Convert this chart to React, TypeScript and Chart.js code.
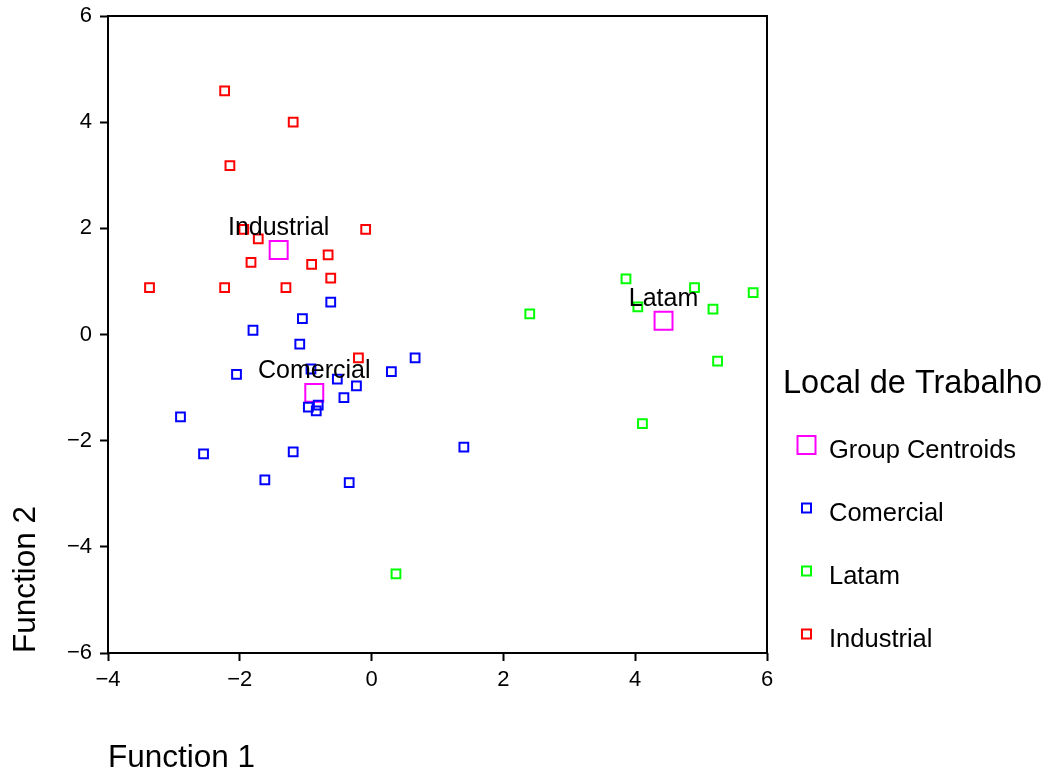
import React, { useEffect, useRef } from 'react';
import { Chart, registerables } from 'chart.js';

Chart.register(...registerables);

const FONT = '"Liberation Sans", Arial, Helvetica, sans-serif';

// Data
const comercialX = [-0.62, -1.05, -1.80, -1.09, 0.66, -2.05, -0.92, -0.52, -0.23, 0.30, -0.42, -0.96, -0.81, -0.84, -2.90, 1.40, -2.55, -1.19, -1.62, -0.34];
const comercialY = [0.61, 0.30, 0.08, -0.18, -0.44, -0.75, -0.65, -0.84, -0.97, -0.70, -1.19, -1.37, -1.33, -1.44, -1.55, -2.12, -2.25, -2.21, -2.74, -2.79];

const latamX = [3.86, 4.90, 5.79, 4.04, 5.18, 2.40, 5.25, 4.11, 0.37];
const latamY = [1.05, 0.885, 0.79, 0.52, 0.48, 0.39, -0.50, -1.68, -4.51];

const industrialX = [-2.23, -1.19, -2.15, -1.94, -1.72, -1.83, -0.91, -0.66, -0.62, -0.09, -3.37, -2.23, -1.30, -0.20];
const industrialY = [4.59, 4.00, 3.18, 1.98, 1.80, 1.36, 1.32, 1.50, 1.06, 1.98, 0.885, 0.885, 0.885, -0.44];

const centroidLabels = ['Industrial', 'Comercial', 'Latam'];
const centroidX = [-1.41, -0.87, 4.43];
const centroidY = [1.59, -1.10, 0.26];

const xTicks = [-4, -2, 0, 2, 4, 6];
const yTicks = [-6, -4, -2, 0, 2, 4, 6];

const legendTitle = 'Local de Trabalho';
const legendItems = ['Group Centroids', 'Comercial', 'Latam', 'Industrial'];

const toPoints = (xs: number[], ys: number[]) => xs.map((x, i) => ({ x, y: ys[i] }));
const fmtTick = (v: number | string) => String(v).replace('-', '\u2212');

const overlayPlugin = {
  id: 'overlay',
  afterDatasetsDraw(chart: any) {
    const { ctx, chartArea: a, scales } = chart;
    const xs = scales.x;
    const ys = scales.y;
    ctx.save();
    // frame
    ctx.strokeStyle = '#000';
    ctx.lineWidth = 2;
    ctx.strokeRect(a.left, a.top, a.right - a.left, a.bottom - a.top);

    // centroid labels
    ctx.fillStyle = '#000';
    ctx.font = `25px ${FONT}`;
    ctx.textAlign = 'center';
    ctx.textBaseline = 'alphabetic';
    centroidLabels.forEach((t, i) => {
      const px = xs.getPixelForValue(centroidX[i]);
      const py = ys.getPixelForValue(centroidY[i]);
      ctx.fillText(t, px, py - 15);
    });

    // legend
    ctx.textAlign = 'left';
    ctx.font = `32.5px ${FONT}`;
    ctx.fillText(legendTitle, 783, 393);
    ctx.font = `25.5px ${FONT}`;
    legendItems.forEach((label, i) => {
      const ds = chart.data.datasets.find((d: any) => d.label === label);
      const base = 457.5 + i * 63;
      const cy = base - 12.5;
      const cx = 806.5;
      const side = i === 0 ? 18 : 9;
      ctx.strokeStyle = ds ? ds.borderColor : '#000';
      ctx.lineWidth = 2;
      ctx.strokeRect(cx - side / 2, cy - side / 2, side, side);
      ctx.fillStyle = '#000';
      ctx.fillText(label, 829, base);
    });
    ctx.restore();
  },
};

export default function App() {
  const ref = useRef<HTMLCanvasElement | null>(null);

  useEffect(() => {
    if (!ref.current) return;
    const chart = new Chart(ref.current, {
      type: 'scatter',
      data: {
        datasets: [
          {
            label: 'Comercial',
            data: toPoints(comercialX, comercialY),
            pointStyle: 'rect',
            pointRadius: 6.2,
            pointBorderWidth: 2,
            borderColor: '#0000FF',
            backgroundColor: 'rgba(0,0,0,0)',
            order: 1,
          },
          {
            label: 'Latam',
            data: toPoints(latamX, latamY),
            pointStyle: 'rect',
            pointRadius: 6.2,
            pointBorderWidth: 2,
            borderColor: '#00FF00',
            backgroundColor: 'rgba(0,0,0,0)',
            order: 2,
          },
          {
            label: 'Industrial',
            data: toPoints(industrialX, industrialY),
            pointStyle: 'rect',
            pointRadius: 6.2,
            pointBorderWidth: 2,
            borderColor: '#FF0000',
            backgroundColor: 'rgba(0,0,0,0)',
            order: 3,
          },
          {
            label: 'Group Centroids',
            data: toPoints(centroidX, centroidY),
            pointStyle: 'rect',
            pointRadius: 12.7,
            pointBorderWidth: 2,
            borderColor: '#FF00FF',
            backgroundColor: 'rgba(0,0,0,0)',
            order: 10,
          },
        ],
      },
      options: {
        animation: false,
        responsive: false,
        layout: { padding: { top: 16, right: 283, left: 0, bottom: 0 } },
        plugins: {
          legend: { display: false },
          tooltip: { enabled: false },
        },
        scales: {
          x: {
            type: 'linear',
            min: -4,
            max: 6,
            afterBuildTicks: (s: any) => {
              s.ticks = xTicks.map((v) => ({ value: v }));
            },
            afterFit: (s: any) => {
              s.height = 123;
              s.paddingLeft = 0;
              s.paddingRight = 0;
            },
            ticks: {
              color: '#000',
              font: { family: FONT, size: 22 },
              padding: 6,
              maxRotation: 0,
              callback: (v: number) => fmtTick(v),
            },
            grid: {
              drawOnChartArea: false,
              drawTicks: true,
              tickLength: 8,
              tickColor: '#000',
              tickWidth: 2,
            },
            border: { display: false },
            title: {
              display: true,
              text: 'Function 1',
              align: 'start',
              color: '#000',
              font: { family: FONT, size: 31.5, lineHeight: 1 },
              padding: { top: 0, bottom: 2 },
            },
          },
          y: {
            type: 'linear',
            min: -6,
            max: 6,
            afterBuildTicks: (s: any) => {
              s.ticks = yTicks.map((v) => ({ value: v }));
            },
            afterFit: (s: any) => {
              s.width = 108;
              s.paddingTop = 0;
              s.paddingBottom = 0;
            },
            ticks: {
              color: '#000',
              font: { family: FONT, size: 22 },
              padding: 8,
              callback: (v: number) => fmtTick(v),
            },
            grid: {
              drawOnChartArea: false,
              drawTicks: true,
              tickLength: 8,
              tickColor: '#000',
              tickWidth: 2,
            },
            border: { display: false },
            title: {
              display: true,
              text: 'Function 2',
              align: 'start',
              color: '#000',
              font: { family: FONT, size: 31.5, lineHeight: 1 },
              padding: { top: 10.5, bottom: 0 },
            },
          },
        },
      },
      plugins: [overlayPlugin],
    } as any);
    return () => chart.destroy();
  }, []);

  return (
    <div style={{ position: 'absolute', left: 0, top: 0, width: 1050, height: 776, background: '#fff' }}>
      <canvas ref={ref} width={1050} height={776} style={{ display: 'block' }} />
    </div>
  );
}
